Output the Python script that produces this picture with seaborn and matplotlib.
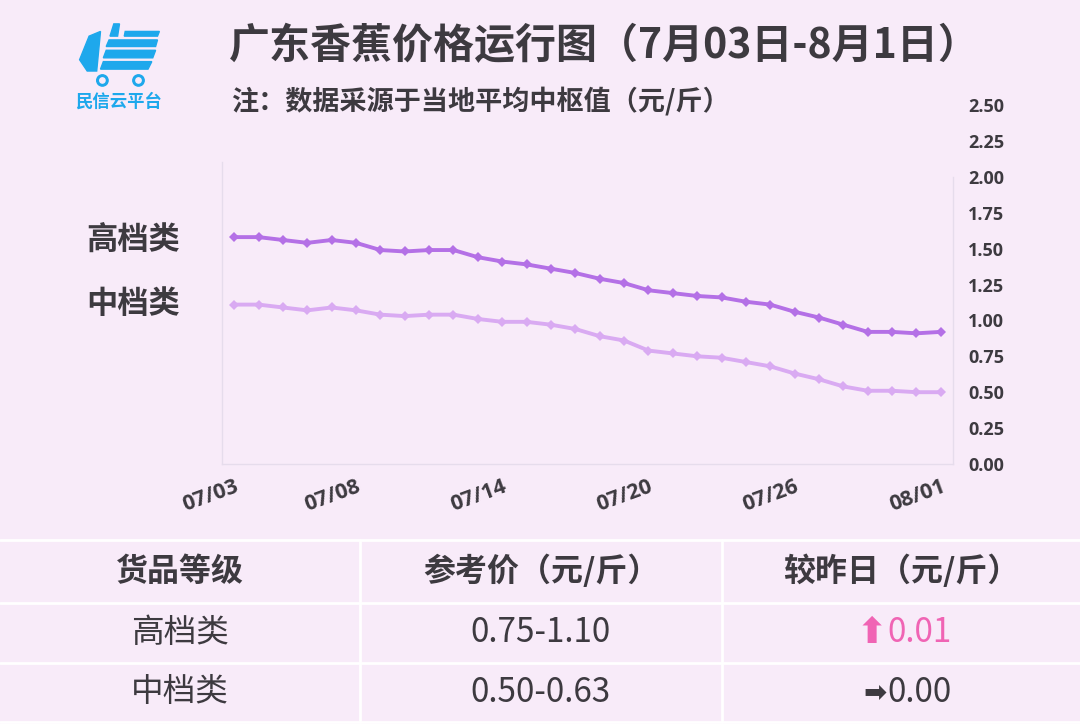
import matplotlib
matplotlib.use("Agg")
import matplotlib.pyplot as plt
from matplotlib.patches import Polygon, Circle
import seaborn as sns
import pandas as pd

sns.set_theme(style="white")
plt.rcParams["font.family"] = ["Noto Sans CJK SC", "DejaVu Sans"]

# --- data ---
dates = ["07/03", "07/04", "07/05", "07/06", "07/07", "07/08", "07/09", "07/10",
         "07/11", "07/12", "07/13", "07/14", "07/15", "07/16", "07/17", "07/18",
         "07/19", "07/20", "07/21", "07/22", "07/23", "07/24", "07/25", "07/26",
         "07/27", "07/28", "07/29", "07/30", "07/31", "08/01"]
high_grade = [1.58, 1.58, 1.56, 1.54, 1.56, 1.54, 1.49, 1.48, 1.49, 1.49,
              1.44, 1.41, 1.39, 1.36, 1.33, 1.29, 1.26, 1.21, 1.19, 1.17,
              1.16, 1.13, 1.11, 1.06, 1.02, 0.97, 0.92, 0.92, 0.91, 0.92]
mid_grade = [1.11, 1.11, 1.09, 1.07, 1.09, 1.07, 1.04, 1.03, 1.04, 1.04,
             1.01, 0.99, 0.99, 0.97, 0.94, 0.89, 0.86, 0.79, 0.77, 0.75,
             0.74, 0.71, 0.68, 0.63, 0.59, 0.54, 0.51, 0.51, 0.50, 0.50]
series_names = ["高档类", "中档类"]
shown_ticks = ["07/03", "07/08", "07/14", "07/20", "07/26", "08/01"]
y_ticks = [0.0, 0.25, 0.5, 0.75, 1.0, 1.25, 1.5, 1.75, 2.0, 2.25, 2.5]

table_header = ["货品等级", "参考价（元/斤）", "较昨日（元/斤）"]
table_grades = ["高档类", "中档类"]
table_ranges = ["0.75-1.10", "0.50-0.63"]
table_change = ["0.01", "0.00"]
table_arrows = ["⬆", "➡"]

BG = "#f8ebf9"
DARK = "#3d3a40"
colors = {"高档类": "#b470e6", "中档类": "#d9aaf2"}
TICK_FONT = ["Open Sans", "DejaVu Sans"]
NARROW = ["Liberation Sans Narrow", "Noto Sans CJK SC", "DejaVu Sans"]

df = pd.DataFrame({
    "idx": list(range(len(dates))) * 2,
    "price": high_grade + mid_grade,
    "grade": [series_names[0]] * len(dates) + [series_names[1]] * len(dates),
})

W, H = 1080, 724
fig = plt.figure(figsize=(W / 100, H / 100), dpi=100, facecolor=BG)

def fx(px):
    return px / W

def fy(py):
    return 1 - py / H

# --- main line chart ---
ax = fig.add_axes([fx(222), fy(464), fx(953) - fx(222), fy(105) - fy(464)])
ax.set_facecolor(BG)
sns.lineplot(data=df, x="idx", y="price", hue="grade", palette=colors,
             marker="D", markersize=5, markeredgewidth=0, linewidth=2.8,
             legend=False, ax=ax)
ax.set_xlim(-0.5, len(dates) - 0.5)
ax.set_ylim(0, 2.5)
tick_pos = [dates.index(d) for d in shown_ticks]
ax.set_xticks(tick_pos)
ax.set_xticklabels(shown_ticks, rotation=20, ha="right", rotation_mode="anchor",
                   fontsize=15.5, fontweight="bold", color=DARK, family=TICK_FONT)
for lbl in ax.get_xticklabels():
    lbl.set_x(lbl.get_position()[0])
ax.yaxis.tick_right()
ax.set_yticks(y_ticks)
ax.set_yticklabels([f"{v:.2f}" for v in y_ticks], fontsize=13,
                   fontweight="bold", color=DARK, family=TICK_FONT)
ax.tick_params(axis="y", length=0, pad=11)
ax.tick_params(axis="x", length=0, pad=9)
ax.set_xlabel("")
ax.set_ylabel("")
ax.spines["top"].set_visible(False)
for s in ["left", "bottom", "right"]:
    ax.spines[s].set_color("#e6dcec")
    ax.spines[s].set_linewidth(1)
ax.spines["left"].set_bounds(0, 2.1)
ax.spines["right"].set_bounds(0, 2.0)

# series labels on the left
fig.text(fx(86), fy(240), series_names[0], fontsize=22.5, fontweight="bold",
         color=DARK, va="center", ha="left")
fig.text(fx(86), fy(304), series_names[1], fontsize=22.5, fontweight="bold",
         color=DARK, va="center", ha="left")

# --- titles ---
fig.text(fx(229), fy(46), "广东香蕉价格运行图（7月03日-8月1日）", fontsize=29.5,
         fontweight="bold", color=DARK, va="center", ha="left")
fig.text(fx(231), fy(101), "注：数据采源于当地平均中枢值（元/斤）", fontsize=19.5,
         fontweight="bold", color=DARK, va="center", ha="left")

# --- logo ---
blue = "#1ea8ec"
lax = fig.add_axes([fx(72), fy(88), fx(95), fy(22) - fy(88)])
lax.set_xlim(0, 100)
lax.set_ylim(0, 70)
lax.axis("off")
lax.add_patch(Polygon([[16, 18], [8, 30], [18, 55], [30, 60], [26, 18]],
                      closed=True, color=blue))
lax.add_patch(Polygon([[30, 20], [33, 28], [84, 28], [80, 20]], closed=True, color=blue))
lax.add_patch(Polygon([[33, 32], [36, 40], [88, 40], [85, 32]], closed=True, color=blue))
lax.add_patch(Polygon([[36, 44], [39, 51], [90, 51], [88, 44]], closed=True, color=blue))
lax.add_patch(Polygon([[40, 55], [44, 68], [50, 68], [48, 55]], closed=True, color=blue))
lax.add_patch(Polygon([[55, 55], [56, 60], [92, 60], [90, 55]], closed=True, color=blue))
for cx in (32, 70):
    lax.add_patch(Circle((cx, 8), 6, color=blue))
    lax.add_patch(Circle((cx, 8), 2.8, color=BG))
fig.text(fx(118), fy(102), "民信云平台", fontsize=12.5, fontweight="bold",
         color=blue, va="center", ha="center")

# --- table ---
row_edges = [540, 603, 663, 722]
col_edges = [0, 360, 722, 1080]
for y in row_edges:
    fig.add_artist(plt.Line2D([0, 1], [fy(y), fy(y)], color="white", lw=2))
for x in col_edges[1:-1]:
    fig.add_artist(plt.Line2D([fx(x), fx(x)], [fy(540), fy(722)], color="white", lw=2))
col_centers = [180, 541, 901]
hdr_y = (row_edges[0] + row_edges[1]) / 2
for cx, txt in zip(col_centers, table_header):
    fig.text(fx(cx), fy(hdr_y), txt, fontsize=23, fontweight="bold", color=DARK,
             ha="center", va="center")
for i in range(len(table_grades)):
    ry = (row_edges[i + 1] + row_edges[i + 2]) / 2
    fig.text(fx(col_centers[0]), fy(ry), table_grades[i], fontsize=23.5,
             color=DARK, ha="center", va="center")
    fig.text(fx(col_centers[1]), fy(ry), table_ranges[i], fontsize=24,
             color=DARK, ha="center", va="center", family=NARROW)
    up = table_arrows[i] == "⬆"
    c = "#f064b4" if up else DARK
    fig.text(fx(col_centers[2] - 14), fy(ry), table_arrows[i],
             fontsize=26 if up else 20, fontweight="bold",
             color=c, ha="right", va="center",
             family=["DejaVu Sans", "Noto Sans CJK SC"])
    fig.text(fx(col_centers[2] - 14), fy(ry), table_change[i], fontsize=24,
             color=c, ha="left", va="center", family=NARROW)

fig.savefig("out.png", dpi=100, facecolor=BG)
